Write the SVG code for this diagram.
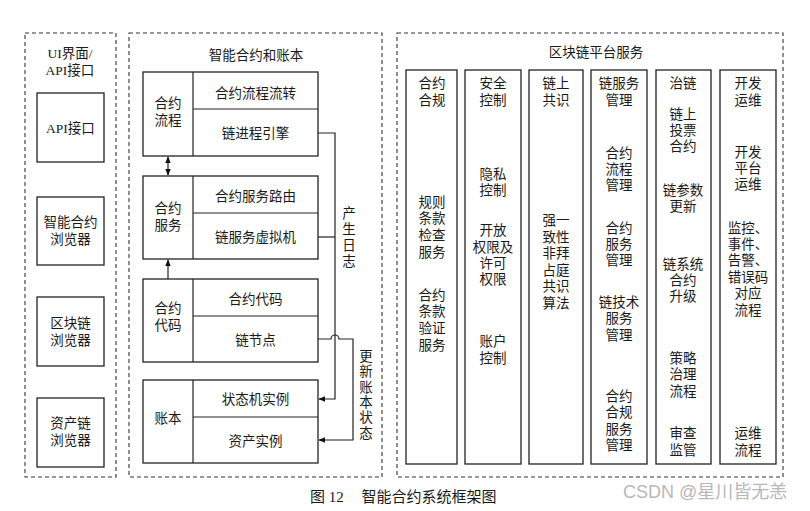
<svg xmlns="http://www.w3.org/2000/svg" width="810" height="511" viewBox="0 0 810 511">
<defs>
<style>
.t{font-family:"Liberation Serif","Noto Sans CJK SC",serif;font-size:13.5px;fill:#1a1a1a;text-anchor:middle;dominant-baseline:central}
.dash{fill:none;stroke:#333;stroke-width:1.1;stroke-dasharray:4 3}
.box{fill:#fff;stroke:#222;stroke-width:1.3}
.ln{fill:none;stroke:#222;stroke-width:1.2}
</style>
<marker id="ah" viewBox="0 0 10 10" refX="9" refY="5" markerWidth="7" markerHeight="7" orient="auto-start-reverse" markerUnits="userSpaceOnUse">
<path d="M0,1 L10,5 L0,9 Z" fill="#111"/>
</marker>
</defs>
<rect width="810" height="511" fill="#fff"/>

<g id="ui-panel">
<rect class="dash" x="25" y="33" width="91" height="444"/>
<text class="t" x="70" y="53">UI界面/</text>
<text class="t" x="70" y="70">API接口</text>
</g>
<g id="api">
<rect class="box" x="37" y="93" width="67" height="69"/>
<text class="t" x="70.5" y="128">API接口</text>
</g>
<g id="contract-browser">
<rect class="box" x="37" y="197" width="67" height="68"/>
<text class="t" x="70.5" y="222">智能合约</text>
<text class="t" x="70.5" y="239">浏览器</text>
</g>
<g id="block-browser">
<rect class="box" x="37" y="297" width="67" height="69"/>
<text class="t" x="70.5" y="323">区块链</text>
<text class="t" x="70.5" y="340">浏览器</text>
</g>
<g id="asset-browser">
<rect class="box" x="37" y="398" width="67" height="69"/>
<text class="t" x="70.5" y="423">资产链</text>
<text class="t" x="70.5" y="440">浏览器</text>
</g>

<g id="contract-panel">
<rect class="dash" x="129" y="33" width="253" height="444"/>
<text class="t" x="256" y="55">智能合约和账本</text>
</g>
<g id="flow">
<rect class="box" x="143" y="72" width="175" height="84"/>
<line class="ln" x1="193" y1="72" x2="193" y2="156"/>
<line class="ln" x1="193" y1="109" x2="318" y2="109"/>
<text class="t" x="168" y="103">合约</text>
<text class="t" x="168" y="120">流程</text>
<text class="t" x="255.5" y="93">合约流程流转</text>
<text class="t" x="255.5" y="133">链进程引擎</text>
</g>
<g id="service">
<rect class="box" x="143" y="176" width="175" height="83"/>
<line class="ln" x1="193" y1="176" x2="193" y2="259"/>
<line class="ln" x1="193" y1="213" x2="318" y2="213"/>
<text class="t" x="168" y="208">合约</text>
<text class="t" x="168" y="225">服务</text>
<text class="t" x="255.5" y="196">合约服务路由</text>
<text class="t" x="255.5" y="237">链服务虚拟机</text>
</g>
<g id="code">
<rect class="box" x="143" y="279" width="175" height="83"/>
<line class="ln" x1="193" y1="279" x2="193" y2="362"/>
<line class="ln" x1="193" y1="316" x2="318" y2="316"/>
<text class="t" x="168" y="308">合约</text>
<text class="t" x="168" y="325">代码</text>
<text class="t" x="255.5" y="299">合约代码</text>
<text class="t" x="255.5" y="340">链节点</text>
</g>
<g id="ledger">
<rect class="box" x="143" y="380" width="175" height="83"/>
<line class="ln" x1="193" y1="380" x2="193" y2="463"/>
<line class="ln" x1="193" y1="417" x2="318" y2="417"/>
<text class="t" x="168" y="418">账本</text>
<text class="t" x="255.5" y="399">状态机实例</text>
<text class="t" x="255.5" y="441">资产实例</text>
</g>

<g id="connectors">
<line class="ln" x1="168" y1="157" x2="168" y2="175" marker-start="url(#ah)" marker-end="url(#ah)"/>
<line class="ln" x1="168" y1="279" x2="168" y2="260" marker-end="url(#ah)"/>
<path class="ln" d="M318,133 H335 V399 H319" marker-end="url(#ah)"/>
<path class="ln" d="M318,237 H335"/>
<path class="ln" d="M318,339 H331 A4,4 0 0 1 339,339 H353 V440 H319" marker-end="url(#ah)"/>
<text class="t" x="349" y="213">产</text>
<text class="t" x="349" y="229">生</text>
<text class="t" x="349" y="245">日</text>
<text class="t" x="349" y="261">志</text>
<text class="t" x="366" y="356">更</text>
<text class="t" x="366" y="371">新</text>
<text class="t" x="366" y="387">账</text>
<text class="t" x="366" y="402">本</text>
<text class="t" x="366" y="417">状</text>
<text class="t" x="366" y="433">态</text>
</g>

<g id="platform-panel">
<rect class="dash" x="397" y="33" width="386" height="444"/>
<text class="t" x="596" y="52">区块链平台服务</text>
</g>
<g id="col-compliance">
<rect class="box" x="406" y="70" width="51" height="394"/>
<text class="t" x="432" y="83">合约</text>
<text class="t" x="432" y="100">合规</text>
<text class="t" x="432" y="202">规则</text>
<text class="t" x="432" y="218">条款</text>
<text class="t" x="432" y="235">检查</text>
<text class="t" x="432" y="252">服务</text>
<text class="t" x="432" y="295">合约</text>
<text class="t" x="432" y="311">条款</text>
<text class="t" x="432" y="328">验证</text>
<text class="t" x="432" y="345">服务</text>
</g>
<g id="col-security">
<rect class="box" x="465" y="70" width="56" height="394"/>
<text class="t" x="493" y="83">安全</text>
<text class="t" x="493" y="100">控制</text>
<text class="t" x="493" y="174">隐私</text>
<text class="t" x="493" y="190">控制</text>
<text class="t" x="493" y="230">开放</text>
<text class="t" x="493" y="247">权限及</text>
<text class="t" x="493" y="263">许可</text>
<text class="t" x="493" y="279">权限</text>
<text class="t" x="493" y="341">账户</text>
<text class="t" x="493" y="358">控制</text>
</g>
<g id="col-consensus">
<rect class="box" x="529" y="70" width="54" height="394"/>
<text class="t" x="556" y="83">链上</text>
<text class="t" x="556" y="100">共识</text>
<text class="t" x="556" y="220">强一</text>
<text class="t" x="556" y="237">致性</text>
<text class="t" x="556" y="253">非拜</text>
<text class="t" x="556" y="270">占庭</text>
<text class="t" x="556" y="286">共识</text>
<text class="t" x="556" y="303">算法</text>
</g>
<g id="col-service-mgmt">
<rect class="box" x="591" y="70" width="56" height="394"/>
<text class="t" x="619" y="83">链服务</text>
<text class="t" x="619" y="100">管理</text>
<text class="t" x="619" y="153">合约</text>
<text class="t" x="619" y="169">流程</text>
<text class="t" x="619" y="185">管理</text>
<text class="t" x="619" y="228">合约</text>
<text class="t" x="619" y="244">服务</text>
<text class="t" x="619" y="260">管理</text>
<text class="t" x="619" y="302">链技术</text>
<text class="t" x="619" y="318">服务</text>
<text class="t" x="619" y="335">管理</text>
<text class="t" x="619" y="396">合约</text>
<text class="t" x="619" y="412">合规</text>
<text class="t" x="619" y="429">服务</text>
<text class="t" x="619" y="445">管理</text>
</g>
<g id="col-governance">
<rect class="box" x="656" y="70" width="55" height="394"/>
<text class="t" x="683" y="83">治链</text>
<text class="t" x="683" y="114">链上</text>
<text class="t" x="683" y="130">投票</text>
<text class="t" x="683" y="146">合约</text>
<text class="t" x="683" y="190">链参数</text>
<text class="t" x="683" y="206">更新</text>
<text class="t" x="683" y="264">链系统</text>
<text class="t" x="683" y="280">合约</text>
<text class="t" x="683" y="296">升级</text>
<text class="t" x="683" y="358">策略</text>
<text class="t" x="683" y="374">治理</text>
<text class="t" x="683" y="391">流程</text>
<text class="t" x="683" y="433">审查</text>
<text class="t" x="683" y="450">监管</text>
</g>
<g id="col-devops">
<rect class="box" x="720" y="70" width="56" height="394"/>
<text class="t" x="748" y="83">开发</text>
<text class="t" x="748" y="100">运维</text>
<text class="t" x="748" y="152">开发</text>
<text class="t" x="748" y="168">平台</text>
<text class="t" x="748" y="184">运维</text>
<text class="t" x="748" y="228">监控、</text>
<text class="t" x="748" y="244">事件、</text>
<text class="t" x="748" y="260">告警、</text>
<text class="t" x="748" y="277">错误码</text>
<text class="t" x="748" y="293">对应</text>
<text class="t" x="748" y="310">流程</text>
<text class="t" x="748" y="433">运维</text>
<text class="t" x="748" y="450">流程</text>
</g>

<g id="caption">
<text class="t" x="327" y="497" style="font-size:15px">图 12</text>
<text class="t" x="429" y="497" style="font-size:15px">智能合约系统框架图</text>
<text x="623" y="492" style="font-family:'Liberation Sans','Noto Sans CJK SC',sans-serif;font-size:18px;fill:#b8b8b8;dominant-baseline:central">CSDN @星川皆无恙</text>
</g>
</svg>
